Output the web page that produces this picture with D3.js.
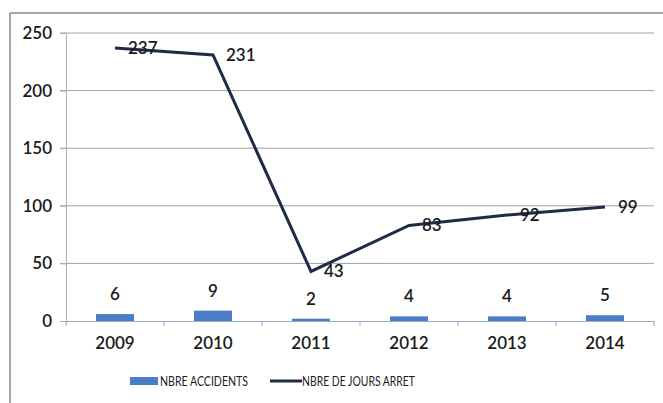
<!DOCTYPE html>
<html>
<head>
<meta charset="utf-8">
<script src="https://cdn.jsdelivr.net/npm/d3@7"></script>
<style>
body { margin: 0; background: #fff; }
text { font-family: Lato, "Open Sans", "Liberation Sans", sans-serif; fill: #1a1a1a; }
</style>
</head>
<body>
<div class="container"></div>
<script>
var years = ["2009", "2010", "2011", "2012", "2013", "2014"];
var accidents = [6, 9, 2, 4, 4, 5];
var joursArret = [237, 231, 43, 83, 92, 99];
var yTicks = [0, 50, 100, 150, 200, 250];

var W = 663, H = 403;
var plotLeft = 66, plotRight = 654, plotTop = 33, plotBottom = 321;

var svg = d3.select(".container").append("svg")
	.attr("width", W)
	.attr("height", H);

// frame of the chart area
svg.append("line").attr("x1", 10).attr("x2", W).attr("y1", 13).attr("y2", 13)
	.style("stroke", "#888").style("stroke-width", 1.5);
svg.append("line").attr("x1", 10).attr("x2", 10).attr("y1", 13).attr("y2", H)
	.style("stroke", "#888").style("stroke-width", 1.5);

var x = d3.scaleBand().domain(years).range([plotLeft, plotRight]);
var y = d3.scaleLinear().domain([0, 250]).range([plotBottom, plotTop]);

// gridlines
svg.selectAll(".grid").data(yTicks.filter(function(d) { return d > 0; }))
	.enter().append("line")
	.attr("x1", plotLeft - 6).attr("x2", plotRight)
	.attr("y1", function(d) { return y(d); }).attr("y2", function(d) { return y(d); })
	.style("stroke", "#a0a0a0").style("stroke-width", 1);

// y axis
var yAxis = svg.append("g").attr("transform", "translate(" + plotLeft + ",0)")
	.call(d3.axisLeft(y).tickValues(yTicks).tickSize(6).tickPadding(8));
yAxis.select(".domain").style("stroke", "#b0b0b0");
yAxis.selectAll(".tick line").style("stroke", "#b0b0b0");
yAxis.selectAll("text").style("font-size", "17px").style("font-weight", "600").style("fill", "#1a1a1a");

// x axis
var xAxis = svg.append("g").attr("transform", "translate(0," + plotBottom + ")")
	.call(d3.axisBottom(x).tickSize(0).tickPadding(16));
xAxis.select(".domain").style("stroke", "#9aa8c0");
xAxis.selectAll("text").style("font-size", "17px").style("font-weight", "600").style("fill", "#1a1a1a");
svg.selectAll(".xtick").data(years.concat(["end"]))
	.enter().append("line")
	.attr("x1", function(d, i) { return plotLeft + i * x.step(); })
	.attr("x2", function(d, i) { return plotLeft + i * x.step(); })
	.attr("y1", plotBottom).attr("y2", plotBottom + 5)
	.style("stroke", "#9aa8c0");

// bars
var bw = 38;
svg.selectAll(".bar").data(accidents).enter().append("rect")
	.attr("x", function(d, i) { return x(years[i]) + x.bandwidth() / 2 - bw / 2; })
	.attr("y", function(d) { return y(d); })
	.attr("width", bw)
	.attr("height", function(d) { return y(0) - y(d); })
	.style("fill", "#4a7cc8");

svg.selectAll(".barlabel").data(accidents).enter().append("text")
	.attr("x", function(d, i) { return x(years[i]) + x.bandwidth() / 2; })
	.attr("y", function(d) { return y(d) - 14; })
	.attr("text-anchor", "middle")
	.style("font-size", "17px").style("font-weight", "600")
	.text(function(d) { return d; });

// line
var line = d3.line()
	.x(function(d, i) { return x(years[i]) + x.bandwidth() / 2; })
	.y(function(d) { return y(d); });
svg.append("path").datum(joursArret)
	.attr("d", line)
	.style("fill", "none")
	.style("stroke", "#1e2b47")
	.style("stroke-width", 3);

svg.selectAll(".linelabel").data(joursArret).enter().append("text")
	.attr("x", function(d, i) { return x(years[i]) + x.bandwidth() / 2 + 13; })
	.attr("y", function(d) { return y(d) + 6; })
	.style("font-size", "17px").style("font-weight", "600")
	.text(function(d) { return d; });

// legend
var lg = svg.append("g");
lg.append("rect").attr("x", 130).attr("y", 377).attr("width", 28).attr("height", 8)
	.style("fill", "#4a7cc8");
lg.append("text").attr("x", 160).attr("y", 386).style("font-size", "14px")
	.attr("textLength", 88).attr("lengthAdjust", "spacingAndGlyphs").text("NBRE ACCIDENTS");
lg.append("line").attr("x1", 270).attr("x2", 302).attr("y1", 381).attr("y2", 381)
	.style("stroke", "#1e2b47").style("stroke-width", 3);
lg.append("text").attr("x", 302).attr("y", 386).style("font-size", "14px")
	.attr("textLength", 113).attr("lengthAdjust", "spacingAndGlyphs").text("NBRE DE JOURS ARRET");
</script>
</body>
</html>
